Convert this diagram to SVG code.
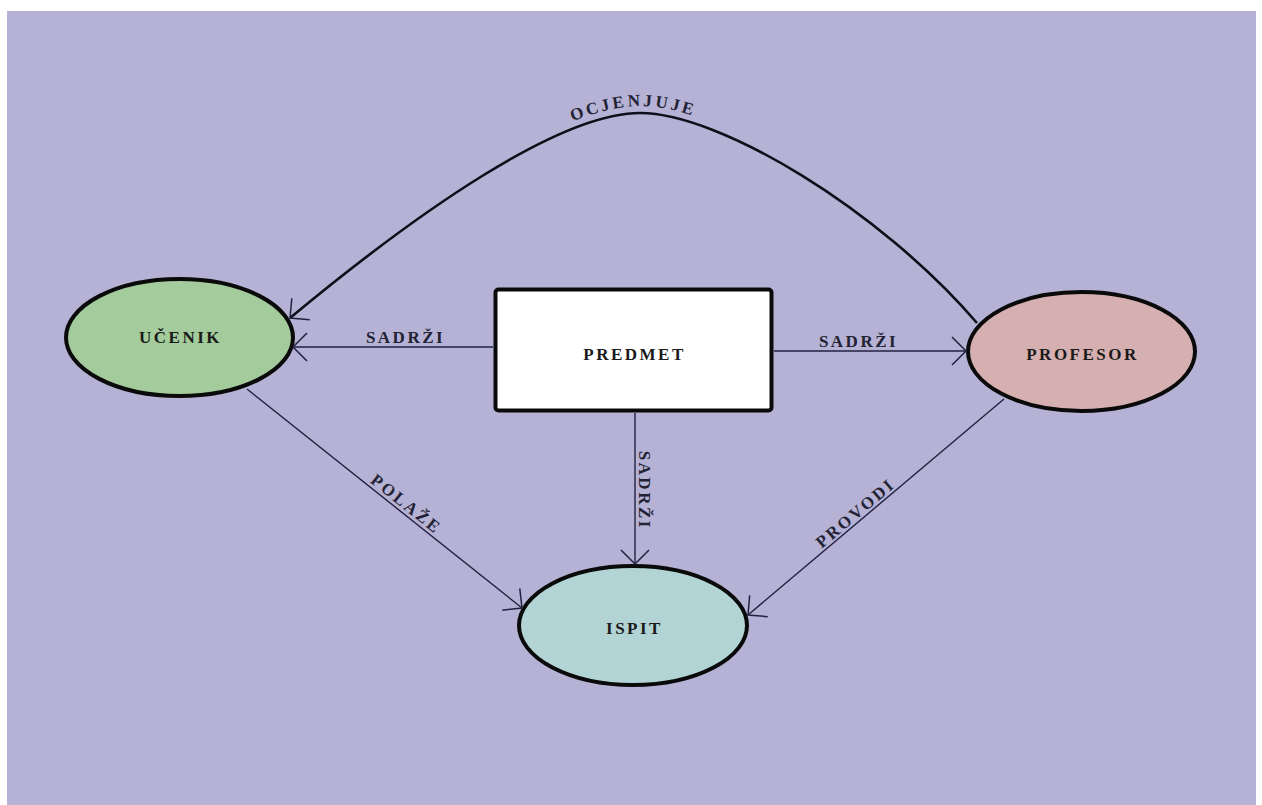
<svg xmlns="http://www.w3.org/2000/svg" width="1262" height="805" viewBox="0 0 1262 805">
<defs>
<style>
.node{stroke:#0a0a0a;stroke-width:4}
.nlabel{font-family:"Liberation Serif","Times New Roman",serif;font-weight:bold;font-size:17px;letter-spacing:2.5px;fill:#1a1a1a;text-anchor:middle}
.elabel{font-family:"Liberation Serif","Times New Roman",serif;font-weight:bold;font-size:17px;letter-spacing:2.5px;fill:#222233;text-anchor:middle}
.edge{fill:none;stroke:#22213f;stroke-width:1.4}
.curve{fill:none;stroke:#0f0f1a;stroke-width:2.6}
</style>
<marker id="arr" markerUnits="userSpaceOnUse" markerWidth="40" markerHeight="40" refX="0" refY="0" viewBox="-20 -20 40 40" orient="auto-start-reverse" overflow="visible">
<path d="M -14 -14 L 0 0 L -14 14" fill="none" stroke="#22213f" stroke-width="1.5"/>
</marker>
<path id="ocjPath" d="M 290 318 C 420 210 560 113 640 113 C 720 113 880 210 977 323"/>
</defs>
<rect x="7" y="11" width="1249" height="794" fill="#b5b2d5"/>
<g id="ucenik">
<ellipse class="node" cx="179.5" cy="337.5" rx="113.5" ry="58.5" fill="#a3cb9b"/>
<text class="nlabel" x="180.5" y="343">UČENIK</text>
</g>
<g id="predmet">
<rect class="node" x="495.5" y="289.5" width="276" height="121" rx="3" fill="#ffffff" stroke-width="5"/>
<text class="nlabel" x="634.5" y="360">PREDMET</text>
</g>
<g id="profesor">
<ellipse class="node" cx="1081.5" cy="351.5" rx="113.5" ry="59.5" fill="#d6b0b0"/>
<text class="nlabel" x="1082.5" y="360">PROFESOR</text>
</g>
<g id="ispit">
<ellipse class="node" cx="633" cy="625.5" rx="114" ry="59.5" fill="#b2d4d4"/>
<text class="nlabel" x="634.5" y="634">ISPIT</text>
</g>
<g id="connectors">
<use href="#ocjPath" class="curve" marker-start="url(#arr)"/>
<text class="elabel" dy="-7" letter-spacing="3.5"><textPath href="#ocjPath" startOffset="49.5%">OCJENJUJE</textPath></text>
<line class="edge" x1="493" y1="347" x2="293" y2="347" marker-end="url(#arr)"/>
<text class="elabel" x="405.5" y="343">SADRŽI</text>
<line class="edge" x1="774" y1="351" x2="966" y2="351" marker-end="url(#arr)"/>
<text class="elabel" x="858.5" y="347">SADRŽI</text>
<line class="edge" x1="635" y1="413" x2="635" y2="564" marker-end="url(#arr)"/>
<text class="elabel" transform="translate(639 489) rotate(90)" x="1.25" y="0">SADRŽI</text>
<line class="edge" x1="247" y1="389" x2="522" y2="608" marker-end="url(#arr)"/>
<text class="elabel" transform="translate(400 510) rotate(38.5)" x="1.25" y="-3">POLAŽE</text>
<line class="edge" x1="1004" y1="399" x2="748" y2="615" marker-end="url(#arr)"/>
<text class="elabel" transform="translate(860 520.5) rotate(-40.2)" x="1.25" y="-3">PROVODI</text>
</g>
</svg>
